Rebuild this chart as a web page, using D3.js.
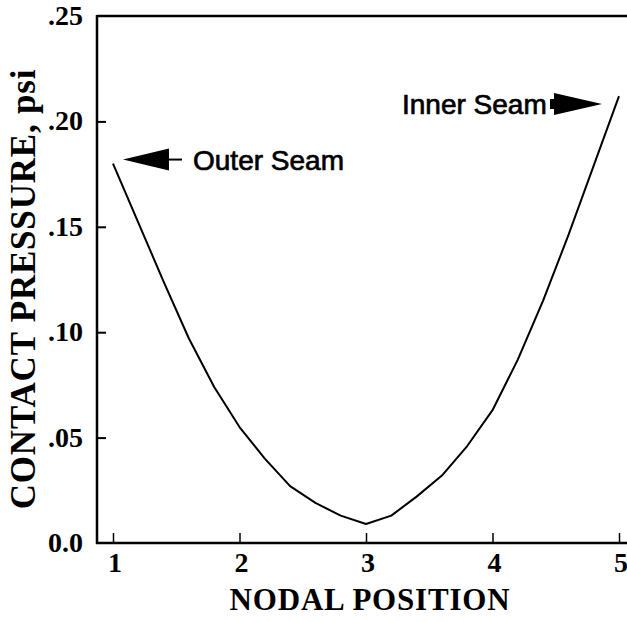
<!DOCTYPE html>
<html>
<head>
<meta charset="utf-8">
<script src="https://cdn.jsdelivr.net/npm/d3@7"></script>
<style>
  html, body { margin: 0; padding: 0; background: #fff; }
  svg { display: block; }
</style>
</head>
<body>
<svg id="chart" width="627" height="622"></svg>
<script>
// nodal positions and contact pressure (psi)
const nodalPosition = [1, 1.2, 1.4, 1.6, 1.8, 2, 2.2, 2.4, 2.6, 2.8, 3, 3.2, 3.4, 3.6, 3.8, 4, 4.2, 4.4, 4.6, 4.8, 5];
const contactPressure = [0.180, 0.152, 0.124, 0.097, 0.074, 0.055, 0.040, 0.027, 0.019, 0.013, 0.009, 0.013, 0.022, 0.032, 0.046, 0.063, 0.087, 0.115, 0.146, 0.179, 0.212];

const xTicks = [1, 2, 3, 4, 5];
const yTicks = [0, 0.05, 0.10, 0.15, 0.20, 0.25];
const yTickLabels = ["0.0", ".05", ".10", ".15", ".20", ".25"];

const svg = d3.select("#chart");
const serif = "'Liberation Serif', 'Times New Roman', serif";
const sans = "'Liberation Sans', Arial, sans-serif";

const x = d3.scaleLinear().domain([1, 5]).range([113, 619]);
const y = d3.scaleLinear().domain([0, 0.25]).range([543, 16]);
const left = 97, right = 627;

// --- FRAME ---
svg.append("line")
  .attr("x1", left).attr("x2", right)
  .attr("y1", y(0.25)).attr("y2", y(0.25))
  .attr("stroke", "#000").attr("stroke-width", 2.5);

// --- Y AXIS ---
const yAxis = svg.append("g")
  .attr("transform", `translate(${left},0)`)
  .call(d3.axisLeft(y)
    .tickValues(yTicks.slice(1, 5))
    .tickSize(-9)
    .tickFormat(""));
yAxis.select(".domain").remove();
yAxis.selectAll(".tick line").attr("stroke", "#000").attr("stroke-width", 2);

svg.append("line")
  .attr("x1", left).attr("x2", left)
  .attr("y1", y(0.25) - 1).attr("y2", y(0) + 1)
  .attr("stroke", "#000").attr("stroke-width", 2.5);

svg.append("g")
  .selectAll("text")
  .data(yTicks)
  .enter()
  .append("text")
  .attr("x", 83)
  .attr("y", d => y(d) + 9)
  .attr("text-anchor", "end")
  .attr("font-family", serif)
  .attr("font-weight", "bold")
  .attr("font-size", 28)
  .text((d, i) => yTickLabels[i]);

// --- X AXIS ---
const xAxis = svg.append("g")
  .attr("transform", `translate(0,${y(0)})`)
  .call(d3.axisBottom(x)
    .tickValues(xTicks)
    .tickSize(-10)
    .tickFormat(""));
xAxis.select(".domain").remove();
xAxis.selectAll(".tick line").attr("stroke", "#000").attr("stroke-width", 1.5);

svg.append("line")
  .attr("x1", left - 1).attr("x2", right)
  .attr("y1", y(0)).attr("y2", y(0))
  .attr("stroke", "#000").attr("stroke-width", 2.5);

svg.append("g")
  .selectAll("text")
  .data(xTicks)
  .enter()
  .append("text")
  .attr("x", d => x(d) + 2)
  .attr("y", 572)
  .attr("text-anchor", "middle")
  .attr("font-family", serif)
  .attr("font-weight", "bold")
  .attr("font-size", 28)
  .text(d => d);

// --- AXIS TITLES ---
svg.append("text")
  .attr("x", 370)
  .attr("y", 610)
  .attr("text-anchor", "middle")
  .attr("font-family", serif)
  .attr("font-weight", "bold")
  .attr("font-size", 31)
  .attr("letter-spacing", 0.8)
  .text("NODAL POSITION");

svg.append("text")
  .attr("transform", "translate(35,289) rotate(-90)")
  .attr("text-anchor", "middle")
  .attr("font-family", serif)
  .attr("font-weight", "bold")
  .attr("font-size", 35)
  .attr("letter-spacing", 0.8)
  .text("CONTACT PRESSURE, psi");

// --- CURVE ---
const points = nodalPosition.map((d, i) => [d, contactPressure[i]]);
svg.append("path")
  .datum(points)
  .attr("fill", "none")
  .attr("stroke", "#000")
  .attr("stroke-width", 2)
  .attr("stroke-linejoin", "round")
  .attr("d", d3.line().x(d => x(d[0])).y(d => y(d[1])));

// --- ANNOTATIONS ---
// outer seam, pointing at the first node
const ox = x(nodalPosition[0]) + 10, oy = y(contactPressure[0]) - 4;
svg.append("path")
  .attr("d", `M${ox},${oy} L${ox + 46},${oy - 11} L${ox + 46},${oy + 11} Z`)
  .attr("fill", "#000");
svg.append("line")
  .attr("x1", ox + 40).attr("x2", ox + 59)
  .attr("y1", oy).attr("y2", oy)
  .attr("stroke", "#000").attr("stroke-width", 2);
svg.append("text")
  .attr("x", ox + 70)
  .attr("y", oy + 10)
  .attr("font-family", sans)
  .attr("font-size", 28)
  .attr("stroke", "#000")
  .attr("stroke-width", 0.7)
  .text("Outer Seam");

// inner seam, pointing at the last node
const last = nodalPosition.length - 1;
const ix = x(nodalPosition[last]) - 17, iy = y(contactPressure[last]) + 8;
svg.append("path")
  .attr("d", `M${ix},${iy} L${ix - 48},${iy - 11} L${ix - 48},${iy - 5} L${ix - 52},${iy - 5} L${ix - 52},${iy + 5} L${ix - 48},${iy + 5} L${ix - 48},${iy + 11} Z`)
  .attr("fill", "#000");
svg.append("text")
  .attr("x", ix - 200)
  .attr("y", iy + 10)
  .attr("font-family", sans)
  .attr("font-size", 28)
  .attr("stroke", "#000")
  .attr("stroke-width", 0.7)
  .text("Inner Seam");
</script>
</body>
</html>
